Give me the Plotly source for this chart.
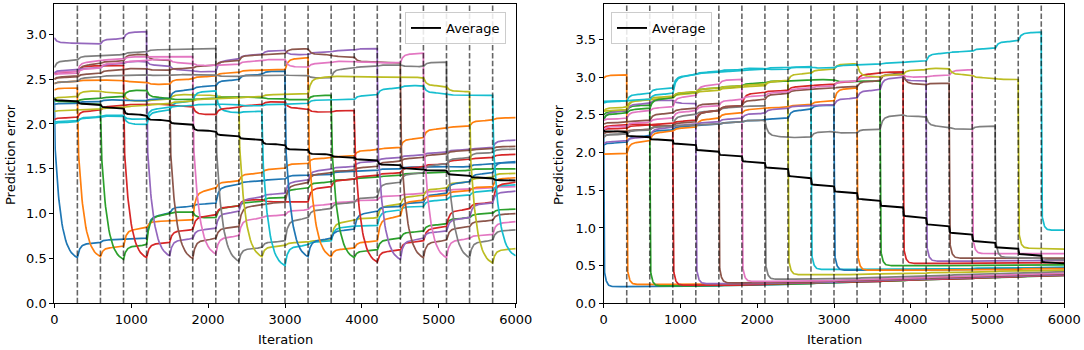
import numpy as np
import plotly.graph_objects as go

SEG = 300
N_TASKS = 20
COLORS = ["#1f77b4", "#ff7f0e", "#2ca02c", "#d62728", "#9467bd",
          "#8c564b", "#e377c2", "#7f7f7f", "#bcbd22", "#17becf"]

boundaries = [300, 600, 900, 1200, 1500, 1800, 2100, 2400, 2700, 3000,
              3300, 3600, 3900, 4200, 4500, 4800, 5100, 5400, 5700]
x_ticks = [0, 1000, 2000, 3000, 4000, 5000, 6000]
x_ticklabels = ["0", "1000", "2000", "3000", "4000", "5000", "6000"]
left_yticks = [0.0, 0.5, 1.0, 1.5, 2.0, 2.5, 3.0]
left_yticklabels = ["0.0", "0.5", "1.0", "1.5", "2.0", "2.5", "3.0"]
right_yticks = [0.0, 0.5, 1.0, 1.5, 2.0, 2.5, 3.0, 3.5]
right_yticklabels = ["0.0", "0.5", "1.0", "1.5", "2.0", "2.5", "3.0", "3.5"]

# ---------------- LEFT PANEL ----------------
left_start = [2.30, 2.38, 2.28, 2.56, 2.96, 2.50, 2.57, 2.63, 2.28, 2.00,
              2.22, 2.45, 2.26, 2.05, 2.57, 2.50, 2.55, 2.45, 2.14, 2.02]
left_pre = [
    [],
    [2.40],
    [2.25, 2.22],
    [2.58, 2.65, 2.65],
    [2.90, 2.89, 2.95, 3.03],
    [2.53, 2.67, 2.70, 2.78, 2.71],
    [2.58, 2.70, 2.72, 2.75, 2.75, 2.75],
    [2.71, 2.76, 2.77, 2.80, 2.83, 2.84, 2.84],
    [2.30, 2.37, 2.35, 2.25, 2.27, 2.33, 2.32, 2.30],
    [2.02, 2.08, 2.10, 1.99, 2.15, 2.25, 2.37, 2.12, 2.14],
    [2.23, 2.25, 2.27, 2.26, 2.28, 2.38, 2.42, 2.49, 2.55, 2.59],
    [2.47, 2.49, 2.49, 2.47, 2.44, 2.50, 2.53, 2.57, 2.60, 2.60, 2.74],
    [2.25, 2.28, 2.30, 2.38, 2.29, 2.27, 2.28, 2.30, 2.30, 2.28, 2.27, 2.32],
    [2.07, 2.15, 2.20, 2.22, 2.22, 2.20, 2.10, 2.18, 2.21, 2.25, 2.17, 2.13, 2.15],
    [2.60, 2.62, 2.67, 2.70, 2.65, 2.60, 2.58, 2.72, 2.77, 2.82, 2.77, 2.80, 2.82, 2.84],
    [2.52, 2.56, 2.60, 2.62, 2.60, 2.62, 2.65, 2.70, 2.77, 2.78, 2.84, 2.77, 2.75, 2.69, 2.68],
    [2.56, 2.62, 2.68, 2.70, 2.72, 2.68, 2.65, 2.66, 2.70, 2.72, 2.63, 2.68, 2.70, 2.69, 2.68, 2.79],
    [2.47, 2.52, 2.54, 2.55, 2.54, 2.55, 2.55, 2.53, 2.54, 2.55, 2.54, 2.51, 2.62, 2.64, 2.66, 2.64, 2.69],
    [2.15, 2.16, 2.18, 2.20, 2.22, 2.25, 2.28, 2.29, 2.30, 2.33, 2.33, 2.53, 2.53, 2.53, 2.52, 2.52, 2.42, 2.36],
    [2.03, 2.07, 2.09, 2.05, 2.18, 2.20, 2.22, 2.22, 2.20, 2.22, 2.23, 2.27, 2.27, 2.32, 2.40, 2.43, 2.34, 2.32, 2.32],
]
left_trained = [0.51, 0.52, 0.49, 0.51, 0.53, 0.50, 0.55, 0.47, 0.52, 0.42,
                0.52, 0.52, 0.51, 0.46, 0.49, 0.51, 0.51, 0.51, 0.45, 0.53]
left_post = [
    [0.68, 0.71, 0.72, 1.00, 1.08, 1.11, 1.32, 1.36, 1.38, 1.43, 1.43, 1.47, 1.48, 1.50, 1.52, 1.53, 1.52, 1.55, 1.57],
    [0.63, 0.84, 0.92, 0.93, 1.28, 1.36, 1.45, 1.50, 1.56, 1.62, 1.64, 1.71, 1.73, 1.84, 1.95, 1.97, 2.04, 2.07],
    [0.65, 1.00, 1.02, 0.95, 1.08, 1.13, 1.18, 1.28, 1.35, 1.38, 1.40, 1.42, 1.45, 1.46, 1.48, 1.50, 1.50],
    [0.68, 0.82, 0.98, 1.08, 1.16, 1.13, 1.13, 1.30, 1.38, 1.42, 1.45, 1.52, 1.55, 1.60, 1.62, 1.66],
    [0.72, 0.83, 1.02, 1.18, 1.22, 1.37, 1.49, 1.52, 1.58, 1.62, 1.65, 1.68, 1.71, 1.73, 1.82],
    [0.72, 0.85, 1.10, 1.12, 1.34, 1.45, 1.48, 1.52, 1.58, 1.62, 1.66, 1.70, 1.72, 1.75],
    [0.75, 0.95, 0.98, 1.04, 1.10, 1.13, 1.15, 1.20, 1.22, 1.25, 1.27, 1.28, 1.30],
    [0.62, 0.69, 0.95, 1.05, 1.12, 1.18, 1.35, 1.45, 1.55, 1.62, 1.68, 1.72],
    [0.64, 0.68, 0.70, 0.92, 0.95, 1.10, 1.20, 1.28, 1.35, 1.40, 1.45],
    [0.65, 0.69, 0.86, 0.86, 1.04, 1.08, 1.15, 1.20, 1.25, 1.32],
    [0.72, 0.82, 1.02, 1.08, 1.12, 1.22, 1.35, 1.45, 1.58],
    [0.61, 0.69, 0.97, 1.15, 1.20, 1.25, 1.30, 1.40],
    [0.59, 0.72, 0.80, 0.88, 0.95, 1.00, 1.05],
    [0.59, 0.69, 0.85, 1.05, 1.12, 1.35],
    [0.72, 0.80, 0.95, 1.12, 1.25],
    [0.70, 0.85, 0.92, 1.00],
    [0.72, 0.76, 0.91],
    [0.70, 0.82],
    [0.61],
    [],
]
left_avg_start = 2.28
left_avg = [2.26, 2.22, 2.18, 2.10, 2.04, 2.00, 1.92, 1.87, 1.83, 1.77,
            1.71, 1.66, 1.63, 1.60, 1.54, 1.50, 1.48, 1.43, 1.40, 1.37]

# ---------------- RIGHT PANEL ----------------
right_start = [2.30, 2.99, 2.50, 2.33, 2.42, 2.38, 2.43, 2.22, 2.55, 2.66,
               2.10, 1.98, 2.45, 2.30, 2.12, 2.25, 2.30, 2.20, 2.55, 2.68]
right_pre = [
    [],
    [3.03],
    [2.55, 2.63],
    [2.36, 2.38, 2.35],
    [2.55, 2.65, 2.70, 2.65],
    [2.40, 2.42, 2.52, 2.58, 2.65],
    [2.45, 2.55, 2.60, 2.75, 2.90, 2.97],
    [2.24, 2.30, 2.35, 2.50, 2.55, 2.60, 2.62],
    [2.56, 2.70, 2.72, 2.78, 2.82, 2.86, 2.88, 2.95],
    [2.68, 2.78, 2.85, 3.03, 3.07, 3.10, 3.12, 3.10, 3.14],
    [2.13, 2.22, 2.30, 2.35, 2.37, 2.40, 2.43, 2.45, 2.57, 2.63],
    [1.98, 2.15, 2.28, 2.33, 2.45, 2.52, 2.58, 2.60, 2.63, 2.68, 2.86],
    [2.52, 2.58, 2.72, 2.80, 2.85, 2.88, 2.92, 2.95, 2.96, 2.97, 2.94, 2.95],
    [2.32, 2.36, 2.38, 2.42, 2.55, 2.62, 2.80, 2.82, 2.88, 2.90, 2.94, 3.05, 3.07],
    [2.15, 2.20, 2.33, 2.37, 2.40, 2.45, 2.52, 2.58, 2.62, 2.63, 2.72, 2.83, 3.00, 2.95],
    [2.28, 2.30, 2.35, 2.40, 2.55, 2.62, 2.70, 2.78, 2.83, 2.85, 2.87, 2.95, 3.05, 2.90, 2.92],
    [2.35, 2.40, 2.45, 2.55, 2.62, 2.70, 2.75, 2.80, 2.85, 2.88, 2.95, 3.00, 3.03, 3.00, 3.02, 3.10],
    [2.25, 2.30, 2.35, 2.36, 2.37, 2.40, 2.43, 2.20, 2.20, 2.28, 2.26, 2.31, 2.50, 2.48, 2.34, 2.31, 2.35],
    [2.60, 2.70, 2.74, 2.80, 2.85, 2.88, 2.90, 2.95, 3.05, 3.10, 3.18, 3.00, 3.03, 3.10, 3.12, 3.03, 2.99, 2.97],
    [2.68, 2.70, 2.78, 3.03, 3.06, 3.08, 3.10, 3.13, 3.14, 3.12, 3.16, 3.17, 3.19, 3.21, 3.32, 3.34, 3.38, 3.48, 3.60],
]
right_trained = [0.22, 0.25, 0.23, 0.24, 0.26, 0.27, 0.29, 0.32, 0.38, 0.45,
                 0.44, 0.44, 0.50, 0.53, 0.56, 0.60, 0.66, 0.61, 0.73, 0.97]
right_post = [
    [0.22, 0.22, 0.23, 0.23, 0.24, 0.24, 0.25, 0.26, 0.27, 0.28, 0.29, 0.30, 0.31, 0.32, 0.33, 0.34, 0.35, 0.36, 0.37],
    [0.25, 0.25, 0.25, 0.26, 0.26, 0.27, 0.27, 0.28, 0.29, 0.30, 0.31, 0.32, 0.33, 0.34, 0.35, 0.36, 0.37, 0.38],
    [0.23, 0.23, 0.24, 0.25, 0.25, 0.26, 0.27, 0.28, 0.29, 0.30, 0.31, 0.32, 0.33, 0.34, 0.35, 0.36, 0.37],
    [0.24, 0.24, 0.25, 0.26, 0.27, 0.28, 0.28, 0.29, 0.30, 0.31, 0.32, 0.33, 0.34, 0.35, 0.36, 0.37],
    [0.26, 0.26, 0.27, 0.27, 0.28, 0.29, 0.30, 0.31, 0.32, 0.33, 0.34, 0.35, 0.36, 0.37, 0.38],
    [0.27, 0.28, 0.28, 0.29, 0.30, 0.31, 0.32, 0.33, 0.34, 0.35, 0.36, 0.37, 0.38, 0.39],
    [0.29, 0.29, 0.30, 0.31, 0.32, 0.33, 0.34, 0.35, 0.36, 0.37, 0.38, 0.39, 0.40],
    [0.32, 0.32, 0.33, 0.34, 0.35, 0.36, 0.37, 0.38, 0.39, 0.40, 0.41, 0.42],
    [0.38, 0.38, 0.39, 0.39, 0.40, 0.41, 0.41, 0.42, 0.43, 0.43, 0.44],
    [0.45, 0.45, 0.45, 0.46, 0.46, 0.46, 0.47, 0.47, 0.47, 0.48],
    [0.44, 0.44, 0.45, 0.45, 0.45, 0.46, 0.46, 0.46, 0.47],
    [0.44, 0.44, 0.44, 0.45, 0.45, 0.45, 0.46, 0.46],
    [0.50, 0.50, 0.50, 0.50, 0.51, 0.51, 0.51],
    [0.53, 0.53, 0.53, 0.54, 0.54, 0.54],
    [0.56, 0.56, 0.56, 0.57, 0.57],
    [0.60, 0.60, 0.60, 0.60],
    [0.66, 0.66, 0.66],
    [0.60, 0.58],
    [0.72],
    [],
]
right_avg_start = 2.30
right_avg = [2.28, 2.21, 2.17, 2.11, 2.02, 1.96, 1.87, 1.79, 1.67, 1.56,
             1.47, 1.37, 1.28, 1.14, 1.03, 0.92, 0.81, 0.73, 0.64, 0.53]

# --------------- curve construction ---------------
T = np.concatenate([[0.0], np.geomspace(0.3, SEG, 70)])


def transition(prev, new, tau):
    f = 0.85 * (1 - np.exp(-T / tau)) / (1 - np.exp(-SEG / tau)) + 0.15 * T / SEG
    return prev + (new - prev) * f


def training(start, end, amp, tau, fast):
    amp = min(amp, 0.85 * (start - end))
    slow = amp * (np.exp(-T / tau) - np.exp(-SEG / tau)) / (1 - np.exp(-SEG / tau))
    return end + (start - end - amp) * np.exp(-T / fast) + slow


def task_curve(i, start, pre, trained, post, amp, tau_tr, tau_lvl):
    levels = list(pre) + [trained] + list(post)
    assert len(levels) == N_TASKS, (i, len(levels))
    xs, ys = [], []
    prev = start
    for j, lv in enumerate(levels):
        if j == i:
            y = training(prev, lv, amp, tau_tr, 1.5)
        else:
            y = transition(prev, lv, tau_lvl)
        xs.append(SEG * j + T)
        ys.append(y)
        prev = lv
    return np.concatenate(xs), np.concatenate(ys)


def avg_curve(start, levels, tau):
    xs, ys = [], []
    prev = start
    for j, lv in enumerate(levels):
        xs.append(SEG * j + T)
        ys.append(transition(prev, lv, tau))
        prev = lv
    return np.concatenate(xs), np.concatenate(ys)


fig = go.Figure()

panels = [
    dict(start=left_start, pre=left_pre, trained=left_trained, post=left_post,
         avg_start=left_avg_start, avg=left_avg, amp=1.4, tau_tr=80, tau_lvl=30,
         tau_avg=14, xa="x", ya="y", legend="legend"),
    dict(start=right_start, pre=right_pre, trained=right_trained, post=right_post,
         avg_start=right_avg_start, avg=right_avg, amp=0.3, tau_tr=25, tau_lvl=30,
         tau_avg=4, xa="x2", ya="y2", legend="legend2"),
]

for p in panels:
    for i in range(N_TASKS):
        x, y = task_curve(i, p["start"][i], p["pre"][i], p["trained"][i], p["post"][i],
                          p["amp"], p["tau_tr"], p["tau_lvl"])
        fig.add_trace(go.Scatter(x=x, y=y, mode="lines", xaxis=p["xa"], yaxis=p["ya"],
                                 line=dict(color=COLORS[i % 10], width=1.7),
                                 showlegend=False, hoverinfo="skip"))
    x, y = avg_curve(p["avg_start"], p["avg"], p["tau_avg"])
    fig.add_trace(go.Scatter(x=x, y=y, mode="lines", xaxis=p["xa"], yaxis=p["ya"],
                             line=dict(color="black", width=1.9), name="Average",
                             legend=p["legend"]))

shapes = []
for xr, yr in [("x", "y domain"), ("x2", "y2 domain")]:
    for b in boundaries:
        shapes.append(dict(type="line", xref=xr, yref=yr, x0=b, x1=b, y0=0, y1=1,
                           line=dict(color="rgba(0,0,0,0.6)", width=1.6, dash="5.5px,2.4px"),
                           layer="above"))

W, H = 1084, 350
FS = 13
axis_common = dict(showline=True, linecolor="black", linewidth=1, mirror=True,
                   ticks="outside", ticklen=4, tickwidth=1, tickcolor="black",
                   showgrid=False, zeroline=False, automargin=False,
                   tickfont=dict(size=FS, color="black"))

title_common = dict(xref="paper", yref="paper", showarrow=False,
                    xanchor="center", yanchor="middle", font=dict(size=FS))

fig.update_layout(
    width=W, height=H,
    margin=dict(l=0, r=0, t=0, b=0),
    paper_bgcolor="white", plot_bgcolor="white",
    font=dict(family="DejaVu Sans", size=FS, color="black"),
    xaxis=dict(domain=[54.3 / W, 515.7 / W], range=[0, 6000], anchor="y",
               tickvals=x_ticks, ticktext=x_ticklabels, **axis_common),
    yaxis=dict(domain=[(H - 303.3) / H, (H - 4) / H], range=[0, 3.338], anchor="x",
               tickvals=left_yticks, ticktext=left_yticklabels, **axis_common),
    xaxis2=dict(domain=[603.7 / W, 1064.3 / W], range=[0, 6000], anchor="y2",
                tickvals=x_ticks, ticktext=x_ticklabels, **axis_common),
    yaxis2=dict(domain=[(H - 303.3) / H, (H - 4) / H], range=[0, 3.972], anchor="x2",
                tickvals=right_yticks, ticktext=right_yticklabels, **axis_common),
    shapes=shapes,
    legend=dict(x=506 / W, xanchor="right", y=(H - 12) / H, yanchor="top",
                bgcolor="rgba(255,255,255,0.85)", bordercolor="#cccccc", borderwidth=1,
                font=dict(size=FS)),
    legend2=dict(x=611 / W, xanchor="left", y=(H - 12) / H, yanchor="top",
                 bgcolor="rgba(255,255,255,0.85)", bordercolor="#cccccc", borderwidth=1,
                 font=dict(size=FS)),
    annotations=[
        dict(text="Prediction error", x=10 / W, y=(H - 155) / H, textangle=-90, **title_common),
        dict(text="Prediction error", x=558 / W, y=(H - 155) / H, textangle=-90, **title_common),
        dict(text="Iteration", x=285 / W, y=(H - 339) / H, **title_common),
        dict(text="Iteration", x=834 / W, y=(H - 339) / H, **title_common),
    ],
)

fig.write_html("out.html", config={"displayModeBar": False},
               post_script="document.body.style.margin='0';document.body.style.padding='0';")
